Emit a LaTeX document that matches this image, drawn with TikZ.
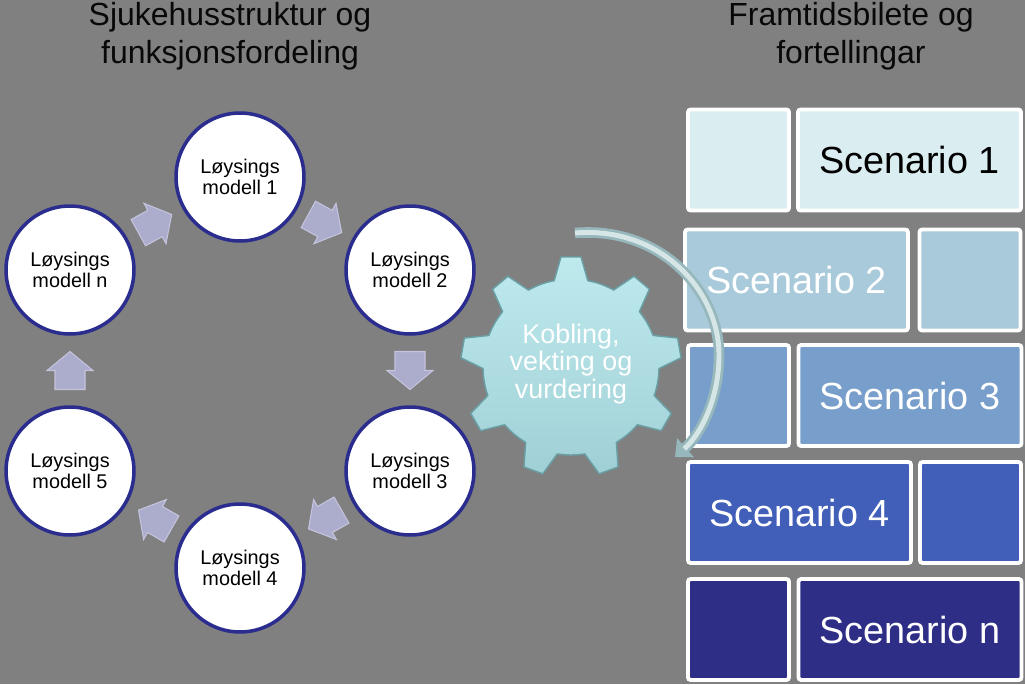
\documentclass[tikz,border=0pt]{standalone}
\usepackage{fontspec}
\setmainfont{Liberation Sans}
\usepackage{tikz}
\usetikzlibrary{arrows.meta, calc}
\definecolor{bggray}{RGB}{128,128,128}
\definecolor{navyring}{RGB}{43,45,142}
\definecolor{lavfill}{RGB}{172,172,204}
\definecolor{lavedge}{RGB}{196,196,222}
\definecolor{titledark}{RGB}{8,8,8}
\definecolor{gearlight}{RGB}{190,234,238}
\definecolor{geardark}{RGB}{160,208,214}
\definecolor{gearedge}{RGB}{105,160,166}
\definecolor{arcouter}{RGB}{150,184,188}
\definecolor{arcinner}{RGB}{214,230,231}
\definecolor{scfillA}{RGB}{218,237,240}
\definecolor{scfillB}{RGB}{168,202,218}
\definecolor{scfillC}{RGB}{120,158,203}
\definecolor{scfillD}{RGB}{65,95,184}
\definecolor{scfillE}{RGB}{46,46,135}
\tikzset{
  modcircle/.style={circle, draw=navyring, fill=white, line width=2pt,
    minimum size=2.56cm, inner sep=0pt, align=center,
    font=\fontsize{11.3}{12}\selectfont},
  title/.style={align=center, text=titledark,
    font=\fontsize{18.2}{21.5}\selectfont},
  geartext/.style={align=center, text=white,
    font=\fontsize{15.3}{15.9}\selectfont},
  scbox/.style={rectangle, draw=white, line width=2.2pt, rounded corners=1.5pt,
    minimum height=2.02cm, inner sep=0pt, text=white,
    font=\fontsize{21.5}{24}\selectfont},
  scsmall/.style={scbox, minimum width=2.02cm},
  scbig/.style={scbox, minimum width=4.46cm},
  curvearrow/.style={draw=arcouter, line width=6pt,
    -{Triangle[length=8pt, width=14pt]},
    postaction={draw=arcinner, line width=2.8pt, -, shorten >=7pt}},
  blockarrow/.pic={
    \fill[lavfill, draw=lavedge, line width=0.6pt]
      (-19,-15) -- (0,-15) -- (0,-23) -- (19,0) -- (0,23) -- (0,15) -- (-19,15) -- cycle;
  }
}

\begin{document}
\begin{tikzpicture}[x=0.02cm, y=-0.02cm]
  \fill[bggray] (0,0) rectangle (1025,684);
  \useasboundingbox (0,0) rectangle (1025,684);

  % Titles
  \node[title] (ttl1) at (230,36) {Sjukehusstruktur og\\funksjonsfordeling};
  \node[title] (ttl2) at (851,36) {Framtidsbilete og\\fortellingar};

  % Loysingsmodellar
  \node[modcircle] (lmod1) at (240,177) {Løysings\\modell 1};
  \node[modcircle] (lmod2) at (410,270) {Løysings\\modell 2};
  \node[modcircle] (lmod3) at (410,471) {Løysings\\modell 3};
  \node[modcircle] (lmod4) at (240,568) {Løysings\\modell 4};
  \node[modcircle] (lmod5) at (70,471) {Løysings\\modell 5};
  \node[modcircle] (lmodn) at (70,270) {Løysings\\modell n};
  \foreach \s/\t in {lmodn/lmod1, lmod1/lmod2, lmod2/lmod3, lmod3/lmod4, lmod4/lmod5, lmod5/lmodn}
    \path let \p1=($(\t)-(\s)$), \n1={atan2(\y1,\x1)} in
      ($(\s)!0.5!(\t)$) pic[rotate=\n1] {blockarrow};

  % Scenario blocks
  \node[scsmall, fill=scfillA] (sc1a) at (738.5,160) {};
  \node[scbig, fill=scfillA, text=black] (sc1) at (909.5,160) {Scenario 1};
  \node[scbig, fill=scfillB] (sc2) at (796.5,280) {Scenario 2};
  \node[scsmall, fill=scfillB] (sc2a) at (970,280) {};
  \node[scsmall, fill=scfillC] (sc3a) at (738.5,395.5) {};
  \node[scbig, fill=scfillC] (sc3) at (910,395.5) {Scenario 3};
  \node[scbig, fill=scfillD] (sc4) at (799.5,512.5) {Scenario 4};
  \node[scsmall, fill=scfillD] (sc4a) at (970.5,512.5) {};
  \node[scsmall, fill=scfillE] (sc5a) at (738.5,629.5) {};
  \node[scbig, fill=scfillE] (sc5) at (910,629.5) {Scenario n};

  % Gear
  \coordinate (gc) at (571,367);
  \path[draw=gearedge, line width=0.8pt, top color=gearlight, bottom color=geardark]
    ($(gc)+(-110:88)$)
    \foreach \a in {-90,-50,...,230}{
      -- ($(gc)+(\a-16:88)$) -- ($(gc)+(\a-11:88)$)
      -- ($(gc)+(\a:110)+(\a-90:10)$) -- ($(gc)+(\a:110)+(\a+90:10)$)
      -- ($(gc)+(\a+11:88)$) -- ($(gc)+(\a+16:88)$) -- ($(gc)+(\a+20:88)$)
    } -- cycle;
  \node[geartext] (gear) at (571,364) {Kobling,\\vekting og\\vurdering};

  % Curved arrow
  \coordinate (cstart) at (575,233);
  \coordinate (cend) at (675,457);
  \draw[curvearrow] (cstart) .. controls (660,226) and (719,290) .. (719,355)
    .. controls (719,400) and (700,435) .. (cend);
\end{tikzpicture}
\end{document}
